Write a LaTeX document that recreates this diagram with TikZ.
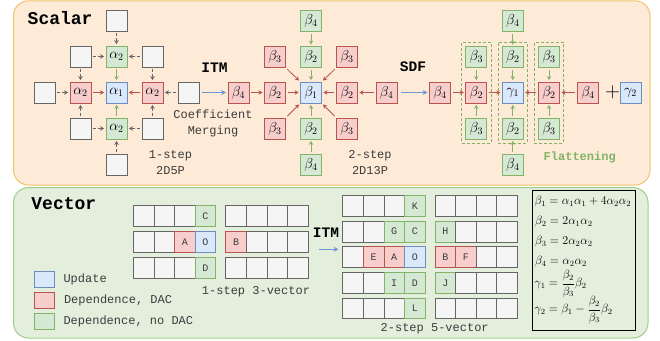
\documentclass[tikz,border=0pt]{standalone}
\usepackage{fontspec}
\setmonofont{Liberation Mono}
\usetikzlibrary{arrows.meta,fit}

\definecolor{panelOf}{RGB}{253,235,216}
\definecolor{panelOd}{RGB}{240,196,104}
\definecolor{panelGf}{RGB}{227,238,221}
\definecolor{panelGd}{RGB}{160,205,140}
\definecolor{cellGf}{RGB}{245,245,245}
\definecolor{cellGd}{RGB}{102,102,102}
\definecolor{cellNf}{RGB}{213,232,212}
\definecolor{cellNd}{RGB}{130,179,102}
\definecolor{cellRf}{RGB}{248,206,204}
\definecolor{cellRd}{RGB}{184,84,80}
\definecolor{cellBf}{RGB}{218,232,252}
\definecolor{cellBd}{RGB}{108,142,191}
\definecolor{flowblue}{RGB}{110,150,210}
\definecolor{txtgray}{RGB}{60,60,60}

% one row of vector cells: name prefix, first centre x, centre y, style/letter list
\newcommand\vrow[4]{%
  \foreach \st/\tx [count=\c from 0] in {#4}
    \node[\st] (#1\c) at ({#2+20.6*\c},#3) {\tx};}

\begin{document}
\begin{tikzpicture}[x=1pt,y=-1pt,
  box/.style={draw, minimum width=21pt, minimum height=21pt, inner sep=0pt,
              line width=0.8pt, font=\fontsize{14}{14}\selectfont},
  wbox/.style={box, draw=cellGd, fill=cellGf},
  nbox/.style={box, draw=cellNd, fill=cellNf},
  rbox/.style={box, draw=cellRd, fill=cellRf},
  bbox/.style={box, draw=cellBd, fill=cellBf},
  vcell/.style={draw, minimum width=20.6pt, minimum height=20.8pt, inner sep=0pt,
                line width=0.8pt, text=txtgray, font=\ttfamily\fontsize{10}{10}\selectfont},
  vw/.style={vcell, draw=cellGd, fill=cellGf},
  vn/.style={vcell, draw=cellNd, fill=cellNf},
  vr/.style={vcell, draw=cellRd, fill=cellRf},
  vb/.style={vcell, draw=cellBd, fill=cellBf},
  arrtip/.style={-{Stealth[length=4pt,width=4.5pt]}},
  garr/.style={arrtip, draw=cellGd, line width=0.8pt, dash pattern=on 3pt off 1.5pt,
               shorten <=2pt, shorten >=1.5pt},
  rarr/.style={arrtip, draw=cellRd, line width=0.8pt, shorten <=2pt, shorten >=1.5pt},
  narr/.style={arrtip, draw=cellNd, line width=0.8pt, shorten <=2pt, shorten >=1.5pt},
  barr/.style={-{Stealth[length=5pt,width=5pt]}, draw=flowblue, line width=1pt,
               shorten <=3pt, shorten >=1.5pt},
  lbl/.style={inner sep=0pt, align=center, text=txtgray,
              font=\ttfamily\fontsize{12}{16}\selectfont},
  ttl/.style={inner sep=0pt, font=\ttfamily\bfseries\fontsize{18}{18}\selectfont},
  op/.style={inner sep=0pt, font=\ttfamily\bfseries\fontsize{14.5}{14.5}\selectfont},
  eq/.style={inner sep=0pt, anchor=west, font=\fontsize{12}{14}\selectfont},
  flatbox/.style={draw=cellNd, dash pattern=on 3pt off 2pt, line width=0.8pt, inner sep=3.7pt},
  legbox/.style={draw, minimum width=20pt, minimum height=16.5pt, inner sep=0pt, line width=0.8pt},
]
\useasboundingbox (0,0) rectangle (660,340);

% panels
\draw[fill=panelOf, draw=panelOd, line width=1pt, rounded corners=15pt]
  (13.5,0.8) rectangle (650,185);
\draw[fill=panelGf, draw=panelGd, line width=1pt, rounded corners=15pt]
  (13.5,187.5) rectangle (648,338);

\node[ttl, anchor=west] (tScalar) at (27.5,18) {Scalar};
\node[ttl, anchor=west] (tVector) at (31.2,203.8) {Vector};

% ---------- 1-step 2D5P ----------
\node[wbox] (aTT) at (116.5,20.5) {};
\node[wbox] (aTL) at (80.5,56.5) {};
\node[nbox] (aT)  at (116.5,56.5) {$\alpha_2$};
\node[wbox] (aTR) at (152.5,56.5) {};
\node[wbox] (aLL) at (44.5,92.5) {};
\node[rbox] (aL)  at (80.5,92.5) {$\alpha_2$};
\node[bbox] (aC)  at (116.5,92.5) {$\alpha_1$};
\node[rbox] (aR)  at (152.5,92.5) {$\alpha_2$};
\node[wbox] (aRR) at (188.5,92.5) {};
\node[wbox] (aBL) at (80.5,128.5) {};
\node[nbox] (aB)  at (116.5,128.5) {$\alpha_2$};
\node[wbox] (aBR) at (152.5,128.5) {};
\node[wbox] (aBB) at (116.5,164.5) {};

\draw[garr] (aTT) -- (aT);
\draw[garr] (aTL) -- (aT);
\draw[garr] (aTR) -- (aT);
\draw[garr] (aTL) -- (aL);
\draw[garr] (aTR) -- (aR);
\draw[garr] (aLL) -- (aL);
\draw[garr] (aRR) -- (aR);
\draw[garr] (aBL) -- (aL);
\draw[garr] (aBR) -- (aR);
\draw[garr] (aBL) -- (aB);
\draw[garr] (aBR) -- (aB);
\draw[garr] (aBB) -- (aB);
\draw[narr] (aT) -- (aC);
\draw[narr] (aB) -- (aC);
\draw[rarr] (aL) -- (aC);
\draw[rarr] (aR) -- (aC);

\node[lbl] (l2d5p) at (170.5,162.5) {1-step\\2D5P};
\node[op] (oITM) at (214.5,68) {ITM};
\node[lbl] (lCM) at (213,123.5) {Coefficient\\Merging};

% ---------- 2-step 2D13P ----------
\node[nbox] (bTT) at (311,21) {$\beta_4$};
\node[rbox] (bTL) at (275,57) {$\beta_3$};
\node[nbox] (bT)  at (311,57) {$\beta_2$};
\node[rbox] (bTR) at (347,57) {$\beta_3$};
\node[rbox] (bLL) at (238.5,92.5) {$\beta_4$};
\node[rbox] (bL)  at (275,92.5) {$\beta_2$};
\node[bbox] (bC)  at (311,92.5) {$\beta_1$};
\node[rbox] (bR)  at (347,92.5) {$\beta_2$};
\node[rbox] (bRR) at (386.7,92.5) {$\beta_4$};
\node[rbox] (bBL) at (275,128.5) {$\beta_3$};
\node[nbox] (bB)  at (311,128.5) {$\beta_2$};
\node[rbox] (bBR) at (347,128.5) {$\beta_3$};
\node[nbox] (bBB) at (311,164.5) {$\beta_4$};

\draw[barr] (aRR) -- (bLL);
\draw[narr] (bTT) -- (bT);
\draw[narr] (bT) -- (bC);
\draw[narr] (bBB) -- (bB);
\draw[narr] (bB) -- (bC);
\draw[rarr] (bLL) -- (bL);
\draw[rarr] (bL) -- (bC);
\draw[rarr] (bRR) -- (bR);
\draw[rarr] (bR) -- (bC);
\draw[rarr] (bTL.south east) -- (bC.north west);
\draw[rarr] (bTR.south west) -- (bC.north east);
\draw[rarr] (bBL.north east) -- (bC.south west);
\draw[rarr] (bBR.north west) -- (bC.south east);

\node[lbl] (l2d13p) at (370,162.5) {2-step\\2D13P};
\node[op] (oSDF) at (413,67) {SDF};

% ---------- flattening ----------
\node[nbox] (fTT) at (512.8,21) {$\beta_4$};
\node[nbox] (fTL) at (476.3,57) {$\beta_3$};
\node[nbox] (fT)  at (512.8,57) {$\beta_2$};
\node[nbox] (fTR) at (549,57) {$\beta_3$};
\node[rbox] (fLL) at (440,92.5) {$\beta_4$};
\node[rbox] (fL)  at (476.3,92.5) {$\beta_2$};
\node[bbox] (fC)  at (512.8,92.5) {$\gamma_1$};
\node[rbox] (fR)  at (549,92.5) {$\beta_2$};
\node[rbox] (fRR) at (588,92.5) {$\beta_4$};
\node[inner sep=0pt, font=\fontsize{20}{20}\selectfont] (fplus) at (612.7,92.5) {$+$};
\node[bbox] (fG2) at (630.5,92.5) {$\gamma_2$};
\node[nbox] (fBL) at (476.3,128.5) {$\beta_3$};
\node[nbox] (fB)  at (512.8,128.5) {$\beta_2$};
\node[nbox] (fBR) at (549,128.5) {$\beta_3$};
\node[nbox] (fBB) at (512.8,164.5) {$\beta_4$};

\node[flatbox, fit=(fTL)(fBL)] (colL) {};
\node[flatbox, fit=(fT)(fB)] (colM) {};
\node[flatbox, fit=(fTR)(fBR)] (colR) {};

\draw[barr] (bRR) -- (fLL);
\draw[narr] (fTT) -- (fT);
\draw[narr] (fT) -- (fC);
\draw[narr] (fBB) -- (fB);
\draw[narr] (fB) -- (fC);
\draw[narr] (fTL) -- (fL);
\draw[narr] (fBL) -- (fL);
\draw[narr] (fTR) -- (fR);
\draw[narr] (fBR) -- (fR);
\draw[rarr] (fLL) -- (fL);
\draw[rarr] (fL) -- (fC);
\draw[rarr] (fRR) -- (fR);
\draw[rarr] (fR) -- (fC);

\node[inner sep=0pt, text=cellNd, font=\ttfamily\bfseries\fontsize{12}{12}\selectfont]
  (lFlat) at (579.7,157) {Flattening};

% ---------- vector: 1-step 3-vector ----------
\vrow{pa}{143.6}{216.2}{vw/{},vw/{},vw/{},vn/C}
\vrow{pb}{143.6}{242}{vw/{},vw/{},vr/A,vb/O}
\vrow{pc}{143.6}{267.8}{vw/{},vw/{},vw/{},vn/D}
\vrow{qa}{236}{216.2}{vw/{},vw/{},vw/{},vw/{}}
\vrow{qb}{236}{242}{vr/B,vw/{},vw/{},vw/{}}
\vrow{qc}{236}{267.8}{vw/{},vw/{},vw/{},vw/{}}
\node[lbl] (l13v) at (256,291.7) {1-step 3-vector};

\node[op] (oITMv) at (326,232.7) {ITM};
\coordinate (itmS) at (316,249.3);
\coordinate (itmE) at (340,249.3);
\draw[barr] (itmS) -- (itmE);

% ---------- vector: 2-step 5-vector ----------
\vrow{ra}{353}{206}{vw/{},vw/{},vw/{},vn/K}
\vrow{rb}{353}{231.6}{vw/{},vw/{},vn/G,vn/C}
\vrow{rc}{353}{257.2}{vw/{},vr/E,vr/A,vb/O}
\vrow{rd}{353}{282.8}{vw/{},vw/{},vn/I,vn/D}
\vrow{re}{353}{308.4}{vw/{},vw/{},vw/{},vn/L}
\vrow{sa}{445.3}{206}{vw/{},vw/{},vw/{},vw/{}}
\vrow{sb}{445.3}{231.6}{vn/H,vw/{},vw/{},vw/{}}
\vrow{sc}{445.3}{257.2}{vr/B,vr/F,vw/{},vw/{}}
\vrow{sd}{445.3}{282.8}{vn/J,vw/{},vw/{},vw/{}}
\vrow{se}{445.3}{308.4}{vw/{},vw/{},vw/{},vw/{}}
\node[lbl] (l25v) at (434.7,328.3) {2-step 5-vector};

% ---------- legend ----------
\node[legbox, draw=cellBd, fill=cellBf] (kU) at (44.3,279.3) {};
\node[legbox, draw=cellRd, fill=cellRf] (kR) at (44.3,300.3) {};
\node[legbox, draw=cellNd, fill=cellNf] (kN) at (44.3,321.2) {};
\node[lbl, anchor=west] (kUt) at (63.3,279.5) {Update};
\node[lbl, anchor=west] (kRt) at (63.8,300.5) {Dependence, DAC};
\node[lbl, anchor=west] (kNt) at (63.3,321) {Dependence, no DAC};

% ---------- coefficient table ----------
\draw[black, line width=0.9pt] (532.7,190) rectangle (635.7,330);
\node[eq] (e1) at (534.5,201.7) {$\beta_1=\alpha_1\alpha_1+4\alpha_2\alpha_2$};
\node[eq] (e2) at (535,221.7) {$\beta_2=2\alpha_1\alpha_2$};
\node[eq] (e3) at (535,241.7) {$\beta_3=2\alpha_2\alpha_2$};
\node[eq] (e4) at (535,261.7) {$\beta_4=\alpha_2\alpha_2$};
\node[eq] (e5) at (534.5,284) {$\displaystyle\gamma_1=\frac{\beta_2}{\beta_3}\beta_2$};
\node[eq] (e6) at (534.5,310) {$\displaystyle\gamma_2=\beta_1-\frac{\beta_2}{\beta_3}\beta_2$};
\end{tikzpicture}
\end{document}
